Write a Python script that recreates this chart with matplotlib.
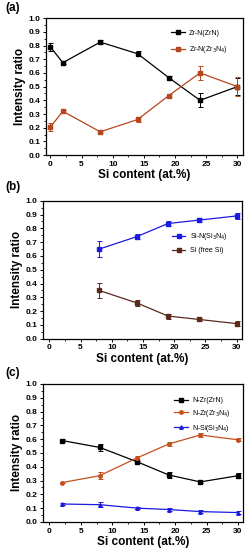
import matplotlib
matplotlib.use("Agg")
import matplotlib.pyplot as plt
from matplotlib.ticker import MultipleLocator

plt.rcParams['font.family'] = ['Liberation Sans', 'DejaVu Sans']

# Panel (a)
xa = [0, 2, 8, 14, 19, 24, 30]
a_zrn = [0.79, 0.675, 0.825, 0.74, 0.565, 0.40, 0.50]
a_zrn_err = [0.03, 0.01, 0.012, 0.02, 0.01, 0.05, 0.06]
a_zr3n4 = [0.205, 0.32, 0.17, 0.26, 0.435, 0.60, 0.50]
a_zr3n4_err = [0.03, 0.01, 0.01, 0.02, 0.01, 0.05, 0.07]

# Panel (b)
xb = [8, 14, 19, 24, 30]
b_si3n4 = [0.65, 0.74, 0.835, 0.86, 0.89]
b_si3n4_err = [0.055, 0.02, 0.02, 0.012, 0.02]
b_freesi = [0.35, 0.26, 0.165, 0.14, 0.11]
b_freesi_err = [0.055, 0.02, 0.018, 0.01, 0.02]

# Panel (c)
xc = [2, 8, 14, 19, 24, 30]
c_zrn = [0.59, 0.54, 0.435, 0.34, 0.29, 0.335]
c_zrn_err = [0.008, 0.025, 0.01, 0.025, 0.01, 0.02]
c_zr3n4 = [0.285, 0.335, 0.465, 0.565, 0.63, 0.595]
c_zr3n4_err = [0.005, 0.025, 0.01, 0.015, 0.015, 0.01]
c_si3n4 = [0.13, 0.125, 0.10, 0.09, 0.075, 0.068]
c_si3n4_err = [0.008, 0.02, 0.008, 0.008, 0.01, 0.01]

BLACK = '#000000'
RED = '#b5461e'
BLUE = '#1a1ae0'
BROWN = '#5c2a1c'
ORANGE = '#c4501e'

fig = plt.figure(figsize=(2.46, 5.5), dpi=100)

positions = [
    [0.187, 0.718, 0.801, 0.249],
    [0.175, 0.384, 0.810, 0.251],
    [0.175, 0.051, 0.813, 0.251],
]
panel_labels = ['(a)', '(b)', '(c)']
label_y = [0.985, 0.66, 0.322]

series = [
    [(xa, a_zrn, a_zrn_err, BLACK, 's', 'Zr-N(ZrN)'),
     (xa, a_zr3n4, a_zr3n4_err, RED, 's', 'Zr-N(Zr$_3$N$_4$)')],
    [(xb, b_si3n4, b_si3n4_err, BLUE, 's', 'Si-N(Si$_3$N$_4$)'),
     (xb, b_freesi, b_freesi_err, BROWN, 's', 'Si (free Si)')],
    [(xc, c_zrn, c_zrn_err, BLACK, 's', 'N-Zr(ZrN)'),
     (xc, c_zr3n4, c_zr3n4_err, ORANGE, 'o', 'N-Zr(Zr$_3$N$_4$)'),
     (xc, c_si3n4, c_si3n4_err, BLUE, '^', 'N-Si(Si$_3$N$_4$)')],
]
xlims = [(-0.7, 30.9), (-1.0, 30.9), (-1.0, 30.8)]
leg_pos = [(0.635, 0.915), (0.645, 0.78), (0.655, 0.905)]
leg_spacing = [1.05, 0.7, 0.55]

for i, pos in enumerate(positions):
    ax = fig.add_axes(pos)
    for (x, y, e, c, m, lab) in series[i]:
        ax.errorbar(x, y, yerr=e, color=c, marker=m, markersize=2.5, lw=0.9,
                    elinewidth=0.7, capsize=1.8, capthick=0.7, label=lab)
    ax.set_xlim(*xlims[i])
    ax.set_ylim(0, 1.0)
    ax.xaxis.set_major_locator(MultipleLocator(5))
    ax.xaxis.set_minor_locator(MultipleLocator(2.5))
    ax.yaxis.set_major_locator(MultipleLocator(0.1))
    ax.yaxis.set_minor_locator(MultipleLocator(0.05))
    ax.tick_params(which='major', direction='out', length=2.5, width=0.7, labelsize=6, pad=1.5)
    ax.tick_params(which='minor', direction='out', length=1.5, width=0.6)
    ax.set_yticklabels([f'{v:.1f}' for v in ax.get_yticks()], fontweight='bold')
    ax.set_xticks([0, 5, 10, 15, 20, 25, 30])
    ax.set_xticklabels(['0', '5', '10', '15', '20', '25', '30'], fontweight='bold')
    for s in ax.spines.values():
        s.set_linewidth(0.9)
    ax.set_ylabel('Intensity ratio', fontsize=8.5, fontweight='bold', labelpad=2)
    ax.set_xlabel('Si content (at.%)', fontsize=8.5, fontweight='bold', labelpad=1)
    handles, labels = ax.get_legend_handles_labels()
    handles = [h[0] for h in handles]
    ax.legend(handles, labels, loc='upper left', bbox_to_anchor=leg_pos[i], frameon=False,
              fontsize=5, handlelength=2.0, handletextpad=0.6,
              labelspacing=leg_spacing[i], borderpad=0.0, borderaxespad=0.0)
    fig.text(0.02, label_y[i], panel_labels[i], fontsize=8.5, fontweight='bold', va='center')

fig.savefig('out.png', dpi=100)
